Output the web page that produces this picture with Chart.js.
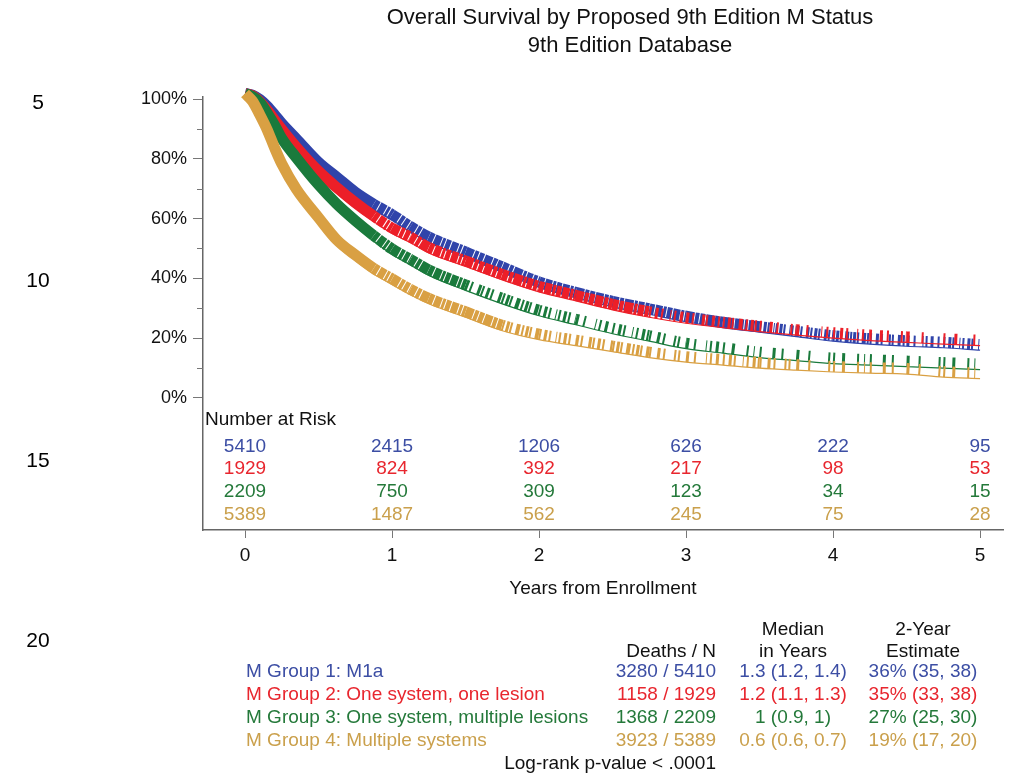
<!DOCTYPE html>
<html>
<head>
<meta charset="utf-8">
<script src="https://cdn.jsdelivr.net/npm/chart.js@4.4.1/dist/chart.umd.min.js"></script>
<style>
  html, body { margin: 0; padding: 0; background: #fff; }
  #wrap { position: relative; width: 1010px; height: 780px; }
</style>
</head>
<body>
<div id="wrap"><canvas id="km"></canvas></div>
<script>
// ---- values ----
const years = [0, 0.05, 0.1, 0.15, 0.2, 0.25, 0.35, 0.5, 0.625, 0.75, 0.875, 1, 1.125, 1.25,
               1.5, 1.75, 2, 2.25, 2.5, 2.75, 3, 3.25, 3.5, 3.75, 4, 4.25, 4.5, 4.75, 5];
const survM1a =        [100, 99.5, 98, 95.8, 93, 90, 84.8, 77, 72, 67, 63, 59.5, 55.5, 52,
                        47, 42, 37, 33.5, 30.5, 28, 25.5, 23.5, 22, 20.5, 19, 18, 17.3, 16.8, 16];
const survOneLesion =  [100, 99.3, 97.3, 94.5, 91.2, 88, 82, 74, 68.5, 63.5, 59, 55, 52, 48.5,
                        44, 39.5, 35.5, 32.5, 29.5, 27, 25, 23.5, 22.2, 21, 20, 19.2, 18.6, 18, 17.5];
const survMultiLesion = [100, 99, 97, 93.5, 89.5, 85, 78.5, 69.5, 63, 57.5, 52.5, 48, 44.5, 41,
                        36, 31.5, 27.5, 24.5, 21.5, 19, 16.5, 15, 13.5, 12.5, 11.5, 11, 10.5, 10, 9.5];
const survMultiSystem = [100, 97.5, 93, 88, 82, 76.5, 68, 58.5, 51, 46, 41.5, 38, 34.5, 31.5,
                        27, 22.5, 19.5, 17.5, 15.5, 13.5, 12, 11, 10, 9.3, 8.7, 8.3, 8, 7, 6.5];

const xTicks = [0, 1, 2, 3, 4, 5];
const yTicks = [0, 20, 40, 60, 80, 100];

const riskM1a =         [5410, 2415, 1206, 626, 222, 95];
const riskOneLesion =   [1929, 824, 392, 217, 98, 53];
const riskMultiLesion = [2209, 750, 309, 123, 34, 15];
const riskMultiSystem = [5389, 1487, 562, 245, 75, 28];

const groupLabels = ['M Group 1: M1a', 'M Group 2: One system, one lesion',
                     'M Group 3: One system, multiple lesions', 'M Group 4: Multiple systems'];
const deathsN = ['3280 / 5410', '1158 / 1929', '1368 / 2209', '3923 / 5389'];
const medianYears = ['1.3 (1.2, 1.4)', '1.2 (1.1, 1.3)', '1 (0.9, 1)', '0.6 (0.6, 0.7)'];
const twoYear = ['36% (35, 38)', '35% (33, 38)', '27% (25, 30)', '19% (17, 20)'];
const lineNumbers = ['5', '10', '15', '20'];

// ---- styling ----
const FONT = "'Liberation Sans', Arial, sans-serif";
const lineColors = ['#3044aa', '#ec1f28', '#1a7a3c', '#d9a043'];
const textColors = ['#3c4ea4', '#e8262e', '#24793a', '#caa04c'];
const survSets = [survM1a, survOneLesion, survMultiLesion, survMultiSystem];
const riskSets = [riskM1a, riskOneLesion, riskMultiLesion, riskMultiSystem];
const drawOrder = [3, 2, 1, 0];          // lower = drawn later (on top)
const denseUntil = [3.3, 2.6, 1.3, 1.75];
const gapScale = [0.7, 1.3, 1, 1];

const dashPatterns = [
    [[6, 1, 4, 1, 9, 1, 3, 1], [5, 1, 7, 1, 3, 1], [8, 1, 4, 1, 5, 1]],
    [[2, 2, 3, 1, 2, 4, 4, 2], [2, 3, 3, 2, 2, 5, 1, 2], [3, 2, 2, 6, 3, 1, 2, 3]],
    [[2, 4, 3, 2, 2, 7, 1, 3], [2, 6, 3, 3, 2, 9, 2, 2], [3, 5, 2, 10, 1, 3, 2, 4]],
    [[2, 7, 3, 12, 2, 5, 1, 14], [2, 11, 3, 6, 2, 16, 2, 4], [3, 9, 2, 18, 2, 6]]
];

function bandDash(g, t, i) {
    const d = denseUntil[g];
    if (t < 0.85) return [];
    let level = 0;
    if (t >= d) level = t < d + 0.9 ? 1 : (t < d + 1.8 ? 2 : 3);
    const p = dashPatterns[level][i % 3];
    if (level === 0) return p;
    return p.map((v, k) => (k % 2 ? Math.max(1, Math.round(v * gapScale[g])) : v));
}

function points(vals) {
    return years.map((t, i) => ({ x: t, y: vals[i] }));
}

const datasets = [];
survSets.forEach((vals, g) => {
    datasets.push({
        label: groupLabels[g],
        data: points(vals),
        borderColor: lineColors[g],
        borderWidth: 1.2,
        pointRadius: 0,
        cubicInterpolationMode: 'monotone',
        clip: false,
        order: drawOrder[g]
    });
    datasets.push({
        label: groupLabels[g] + ' censored',
        isBand: true,
        data: points(vals),
        borderColor: lineColors[g],
        borderWidth: 11,
        borderCapStyle: 'butt',
        pointRadius: 0,
        cubicInterpolationMode: 'monotone',
        clip: false,
        order: drawOrder[g],
        segment: {
            borderDash: ctx => bandDash(g, ctx.p0.parsed.x, ctx.p0DataIndex)
        }
    });
});

// lift the censor-tick band so the ticks sit on top of the curve
const bandShift = {
    id: 'bandShift',
    beforeDatasetDraw(chart, args) {
        if (chart.data.datasets[args.index].isBand) {
            chart.ctx.save();
            chart.ctx.translate(0, -5.5);
        }
    },
    afterDatasetDraw(chart, args) {
        if (chart.data.datasets[args.index].isBand) chart.ctx.restore();
    }
};

const annotations = {
    id: 'annotations',
    afterDraw(chart) {
        const ctx = chart.ctx;
        const xs = chart.scales.x, ys = chart.scales.y;
        const area = chart.chartArea;
        ctx.save();

        // title
        ctx.fillStyle = '#111';
        ctx.textAlign = 'center';
        ctx.textBaseline = 'middle';
        ctx.font = `22px ${FONT}`;
        ctx.fillText('Overall Survival by Proposed 9th Edition M Status', 630, 18);
        ctx.fillText('9th Edition Database', 630, 46);

        // document line numbers in the margin
        ctx.font = `21px ${FONT}`;
        ctx.fillStyle = '#000';
        [103, 281, 461, 641].forEach((y, i) => ctx.fillText(lineNumbers[i], 38, y));

        // minor y ticks
        ctx.strokeStyle = '#777';
        ctx.lineWidth = 1;
        for (let v = 10; v < 100; v += 20) {
            const py = Math.round(ys.getPixelForValue(v)) + 0.5;
            ctx.beginPath();
            ctx.moveTo(area.left - 6, py);
            ctx.lineTo(area.left, py);
            ctx.stroke();
        }

        // number at risk
        ctx.font = `19px ${FONT}`;
        ctx.textAlign = 'left';
        ctx.fillStyle = '#111';
        ctx.fillText('Number at Risk', area.left + 2, area.bottom - 110);
        ctx.textAlign = 'center';
        const rowOffsets = [83, 61, 38, 15];
        riskSets.forEach((row, g) => {
            ctx.fillStyle = textColors[g];
            row.forEach((n, j) => {
                ctx.fillText(String(n), xs.getPixelForValue(xTicks[j]), area.bottom - rowOffsets[g]);
            });
        });

        // summary table
        ctx.fillStyle = '#111';
        ctx.textAlign = 'center';
        ctx.fillText('Median', 793, 630);
        ctx.fillText('2-Year', 923, 630);
        ctx.fillText('in Years', 793, 652);
        ctx.fillText('Estimate', 923, 652);
        ctx.textAlign = 'right';
        ctx.fillText('Deaths / N', 716, 652);
        const rows = [672, 695, 718, 741];
        rows.forEach((y, g) => {
            ctx.fillStyle = textColors[g];
            ctx.textAlign = 'left';
            ctx.fillText(groupLabels[g], 246, y);
            ctx.textAlign = 'right';
            ctx.fillText(deathsN[g], 716, y);
            ctx.textAlign = 'center';
            ctx.fillText(medianYears[g], 793, y);
            ctx.fillText(twoYear[g], 923, y);
        });
        ctx.fillStyle = '#111';
        ctx.textAlign = 'right';
        ctx.fillText('Log-rank p-value < .0001', 716, 764);
        ctx.restore();
    }
};

new Chart(document.getElementById('km'), {
    type: 'line',
    data: { datasets },
    options: {
        responsive: true,
        maintainAspectRatio: false,
        animation: false,
        layout: { padding: { left: 83, right: 7, top: 97, bottom: 170 } },
        plugins: {
            legend: { display: false },
            tooltip: { enabled: false }
        },
        scales: {
            x: {
                type: 'linear',
                min: -0.2857,
                max: 5.156,
                afterBuildTicks: s => { s.ticks = xTicks.map(v => ({ value: v })); },
                afterFit: s => { s.height = 80; s.paddingLeft = 0; s.paddingRight = 0; },
                grid: { drawOnChartArea: false, drawTicks: true, tickLength: 8, color: '#777' },
                border: { display: true, color: '#666', width: 1.5 },
                ticks: { color: '#111', font: { family: FONT, size: 19 }, padding: 6, maxRotation: 0 },
                title: {
                    display: true,
                    text: 'Years from Enrollment',
                    color: '#111',
                    font: { family: FONT, size: 19 },
                    padding: { top: 0, bottom: 10 }
                }
            },
            y: {
                type: 'linear',
                min: -44.15,
                max: 100.67,
                afterBuildTicks: s => { s.ticks = yTicks.map(v => ({ value: v })); },
                afterFit: s => { s.width = 120; s.paddingTop = 0; s.paddingBottom = 0; },
                grid: { drawOnChartArea: false, drawTicks: true, tickLength: 10, color: '#777' },
                border: { display: true, color: '#666', width: 1.5 },
                ticks: {
                    color: '#111',
                    font: { family: FONT, size: 18 },
                    padding: 6,
                    callback: v => v + '%'
                }
            }
        }
    },
    plugins: [bandShift, annotations]
});
</script>
</body>
</html>
